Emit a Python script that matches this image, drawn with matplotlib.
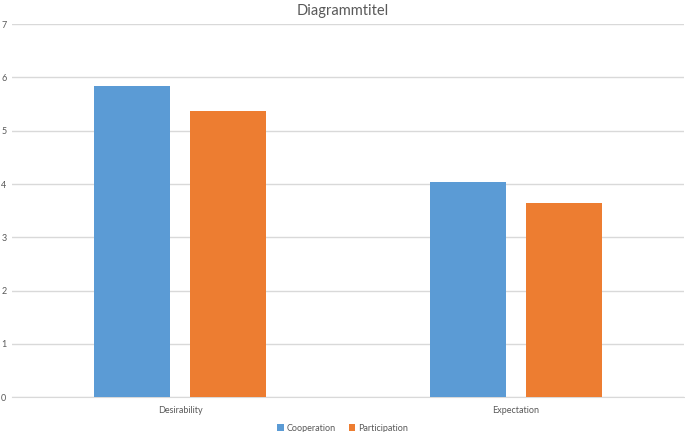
import numpy as np
from matplotlib import pyplot as plt

# Data
#--------------------------------------------------------------------------
categories = ['Desirability', 'Expectation']
cooperation = [5.84, 4.04]
participation = [5.36, 3.64]
series_names = ['Cooperation', 'Participation']
yticks = [0, 1, 2, 3, 4, 5, 6, 7]
#--------------------------------------------------------------------------

plt.rcParams['font.family'] = ['Lato', 'DejaVu Sans']
text_col = '#595959'
grid_col = '#d9d9d9'
blue = '#5b9bd5'
orange = '#ed7d31'

fig = plt.figure(figsize=(6.85, 4.32), dpi=100)
ax = fig.add_axes([0.0175, 0.0803, 0.981, 0.8641])

x = np.arange(len(categories))
w = 0.225
off = w / 2 + 0.03
ax.bar(x - off, cooperation, w, color=blue, label=series_names[0], zorder=3)
ax.bar(x + off, participation, w, color=orange, label=series_names[1], zorder=3)

ax.set_xlim(-0.5, 1.5)
ax.set_ylim(0, 7)
ax.set_yticks(yticks)
ax.set_yticklabels([str(t) for t in yticks])
ax.set_xticks(x)
ax.set_xticklabels(categories)
ax.grid(axis='y', color=grid_col, linewidth=1, zorder=0)
ax.tick_params(length=0, labelsize=6.5, labelcolor=text_col)
ax.tick_params(axis='y', pad=4)
ax.tick_params(axis='x', pad=6)
for side in ['top', 'right', 'left']:
    ax.spines[side].set_visible(False)
ax.spines['bottom'].set_color(grid_col)

fig.suptitle('Diagrammtitel', x=0.5, y=0.99, fontsize=10.5, color=text_col)

fig.legend(loc='lower center', bbox_to_anchor=(0.5, -0.02), ncol=2,
           frameon=False, fontsize=6.5, labelcolor=text_col,
           handlelength=0.7, handleheight=0.7, handletextpad=0.3,
           columnspacing=1.5)

fig.savefig('out.png', dpi=100)
